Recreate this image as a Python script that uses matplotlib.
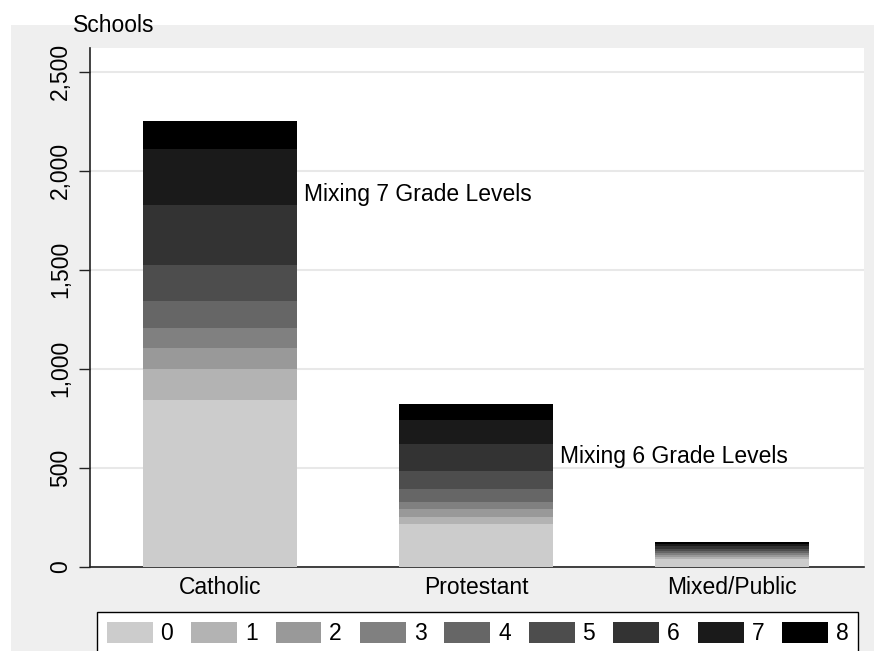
import matplotlib
matplotlib.use("Agg")
import matplotlib.pyplot as plt
from matplotlib.patches import Rectangle
import numpy as np

plt.rcParams['font.family'] = ['Liberation Sans', 'DejaVu Sans']

categories = ["Catholic", "Protestant", "Mixed/Public"]
levels = ["0", "1", "2", "3", "4", "5", "6", "7", "8"]
catholic = [842, 155, 106, 101, 138, 183, 303, 283, 138]
protestant = [214, 39, 38, 36, 67, 87, 140, 118, 83]
mixed = [40, 10, 9, 9, 10, 12, 14, 11, 8]
colors = ["#cccccc", "#b3b3b3", "#999999", "#808080", "#666666",
          "#4d4d4d", "#333333", "#1a1a1a", "#000000"]
annotations = ["Mixing 7 Grade Levels", "Mixing 6 Grade Levels"]
annot_y = [1848, 525]
yticks = [0, 500, 1000, 1500, 2000, 2500]

FS = 16.5
W, H = 874, 651
fig = plt.figure(figsize=(W / 100, H / 100), dpi=100)
fig.patch.set_facecolor("white")
bg = Rectangle((11 / W, 0), 1 - 11 / W, 1 - 25 / H,
               transform=fig.transFigure, facecolor="#efefef",
               edgecolor="none", zorder=-10)
fig.patches.append(bg)

x0, x1, ytop, ybot = 90, 863.7, 48, 566.7
ax = fig.add_axes([x0 / W, 1 - ybot / H, (x1 - x0) / W, (ybot - ytop) / H])
ax.set_zorder(1)
ax.set_facecolor("white")

data = np.array([catholic, protestant, mixed])
xpos = np.arange(len(categories))
bottom = np.zeros(len(categories))
for i, lev in enumerate(levels):
    ax.bar(xpos, data[:, i], bottom=bottom, width=0.604, color=colors[i],
           label=lev, zorder=3, linewidth=0)
    bottom += data[:, i]

for i, txt in enumerate(annotations):
    ax.text(xpos[i] + 0.326, annot_y[i], txt, fontsize=FS, va="baseline",
            ha="left", zorder=4)

ax.set_xlim(-0.508, 2.514)
ax.set_ylim(0, 2620)
ax.set_yticks(yticks)
ax.set_yticklabels([f"{v:,}" for v in yticks], rotation=90, va="center",
                   fontsize=FS)
ax.set_xticks(xpos)
ax.set_xticklabels(categories, fontsize=FS)
ax.tick_params(axis="x", length=0, pad=6.5)
ax.tick_params(axis="y", length=8, width=1, pad=5, color="#222222")
ax.grid(axis="y", color="#e8e8e8", linewidth=1.5, zorder=0)
ax.set_axisbelow(True)
for s in ["top", "right"]:
    ax.spines[s].set_visible(False)
for s in ["left", "bottom"]:
    ax.spines[s].set_color("#222222")
    ax.spines[s].set_linewidth(1.2)

fig.text(113.5 / W, 1 - 26 / H, "Schools", fontsize=FS, ha="center",
         va="center")

leg = fig.legend(loc="upper left", bbox_to_anchor=(97.3 / W, 1 - 612.3 / H),
                 bbox_transform=fig.transFigure, ncol=9, fontsize=FS,
                 frameon=True, fancybox=False, borderaxespad=0,
                 borderpad=0.41, handlelength=2.0, handleheight=1.02,
                 handletextpad=0.34, columnspacing=0.79)
leg.get_frame().set_edgecolor("black")
leg.get_frame().set_linewidth(1.0)
leg.get_frame().set_facecolor("white")
leg.get_frame().set_alpha(1.0)
leg.set_zorder(5)

fig.savefig("out.png", dpi=100, facecolor=fig.get_facecolor())
